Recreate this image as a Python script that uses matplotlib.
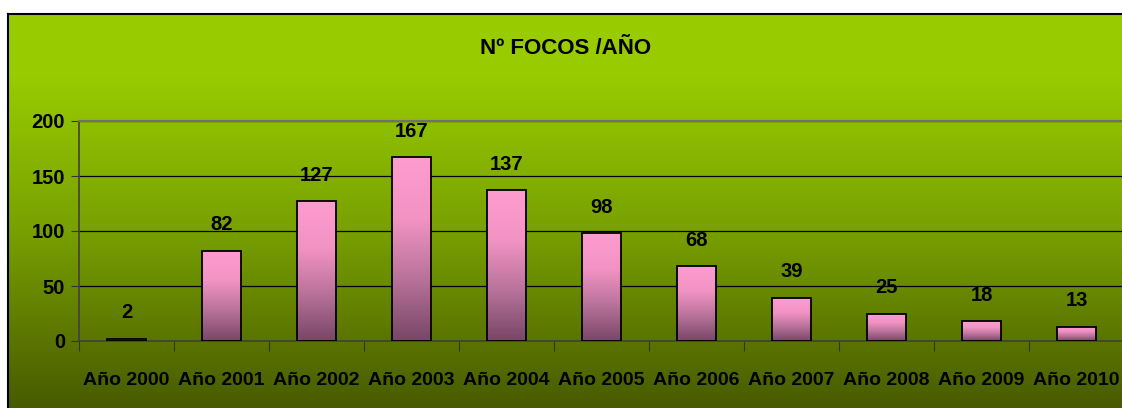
import numpy as np
import matplotlib
matplotlib.use("Agg")
import matplotlib.pyplot as plt
from matplotlib.colors import LinearSegmentedColormap

categories = ["Año 2000", "Año 2001", "Año 2002", "Año 2003", "Año 2004", "Año 2005",
              "Año 2006", "Año 2007", "Año 2008", "Año 2009", "Año 2010"]
values = [2, 82, 127, 167, 137, 98, 68, 39, 25, 18, 13]
y_ticks = [0, 50, 100, 150, 200]
title = "Nº FOCOS /AÑO"

plt.rcParams['font.family'] = ['Liberation Sans', 'DejaVu Sans']
plt.rcParams['font.weight'] = 'bold'

W, H = 1122, 408
fig = plt.figure(figsize=(W / 100, H / 100), dpi=100)
fig.patch.set_facecolor('white')

# background frame with vertical green gradient
bg = fig.add_axes([8 / W, 0, 1 - 8 / W + 0.01, (H - 14) / H])
bg_cmap = LinearSegmentedColormap.from_list('bg', [(0.0, '#485a00'), (0.45, '#78a000'), (0.85, '#99cc00'), (1.0, '#99cc00')])
grad = np.linspace(0, 1, 256).reshape(-1, 1)
bg.imshow(grad, aspect='auto', cmap=bg_cmap, origin='lower', extent=[0, 1, 0, 1])
bg.set_xticks([]); bg.set_yticks([])
for s in ['right', 'bottom']:
    bg.spines[s].set_visible(False)
for s in ['top', 'left']:
    bg.spines[s].set_color('black')
    bg.spines[s].set_linewidth(1.5)

# main plot axes
n = len(categories)
left_px, right_px = 79, 79 + 95 * n
top_px, bot_px = 121, 341
ax = fig.add_axes([left_px / W, (H - bot_px) / H, (right_px - left_px) / W, (bot_px - top_px) / H])
ax.set_facecolor('none')
x = np.arange(n)
bars = ax.bar(x, values, width=0.41, color='none', edgecolor='black', linewidth=1.3, zorder=3)

bar_cmap = LinearSegmentedColormap.from_list('bar', ['#784666', '#b8729a', '#f293c4', '#ff9ccf'])
for b in bars:
    bx, bw, bh = b.get_x(), b.get_width(), b.get_height()
    im = ax.imshow(grad, aspect='auto', cmap=bar_cmap, origin='lower',
                   extent=[bx, bx + bw, 0, bh], zorder=2)
    im.set_clip_path(b)
    ax.annotate(str(int(bh)), (bx + bw / 2, bh), xytext=(0, 12), textcoords='offset points',
                ha='center', va='bottom', fontsize=14.5, fontweight='bold', color='black')

ax.set_xlim(-0.5, n - 0.5)
ax.set_ylim(0, 200)
ax.set_yticks(y_ticks)
ax.set_yticklabels([str(v) for v in y_ticks], fontsize=14.5, fontweight='bold')
ax.yaxis.grid(True, color='black', linewidth=0.9, zorder=1)
ax.set_axisbelow(True)

ax.set_xticks(np.arange(-0.5, n, 1.0))
ax.set_xticklabels([])
ax.set_xticks(x, minor=True)
ax.set_xticklabels(categories, minor=True, fontsize=14, fontweight='bold')
ax.tick_params(axis='x', which='minor', length=0, pad=22)
ax.tick_params(axis='x', which='major', length=7, color='#333333', direction='out')
ax.tick_params(axis='y', length=6, color='#333333', direction='out', pad=4)

ax.spines['top'].set_color('#707070')
ax.spines['top'].set_linewidth(1.5)
ax.spines['right'].set_visible(False)
ax.spines['left'].set_color('#404040')
ax.spines['bottom'].set_color('#404040')
ax.spines['left'].set_linewidth(1.2)
ax.spines['bottom'].set_linewidth(1.2)

fig.text(566 / W, 1 - 48 / H, title, ha='center', va='center', fontsize=16, fontweight='bold')

fig.savefig('out.png', dpi=100)
